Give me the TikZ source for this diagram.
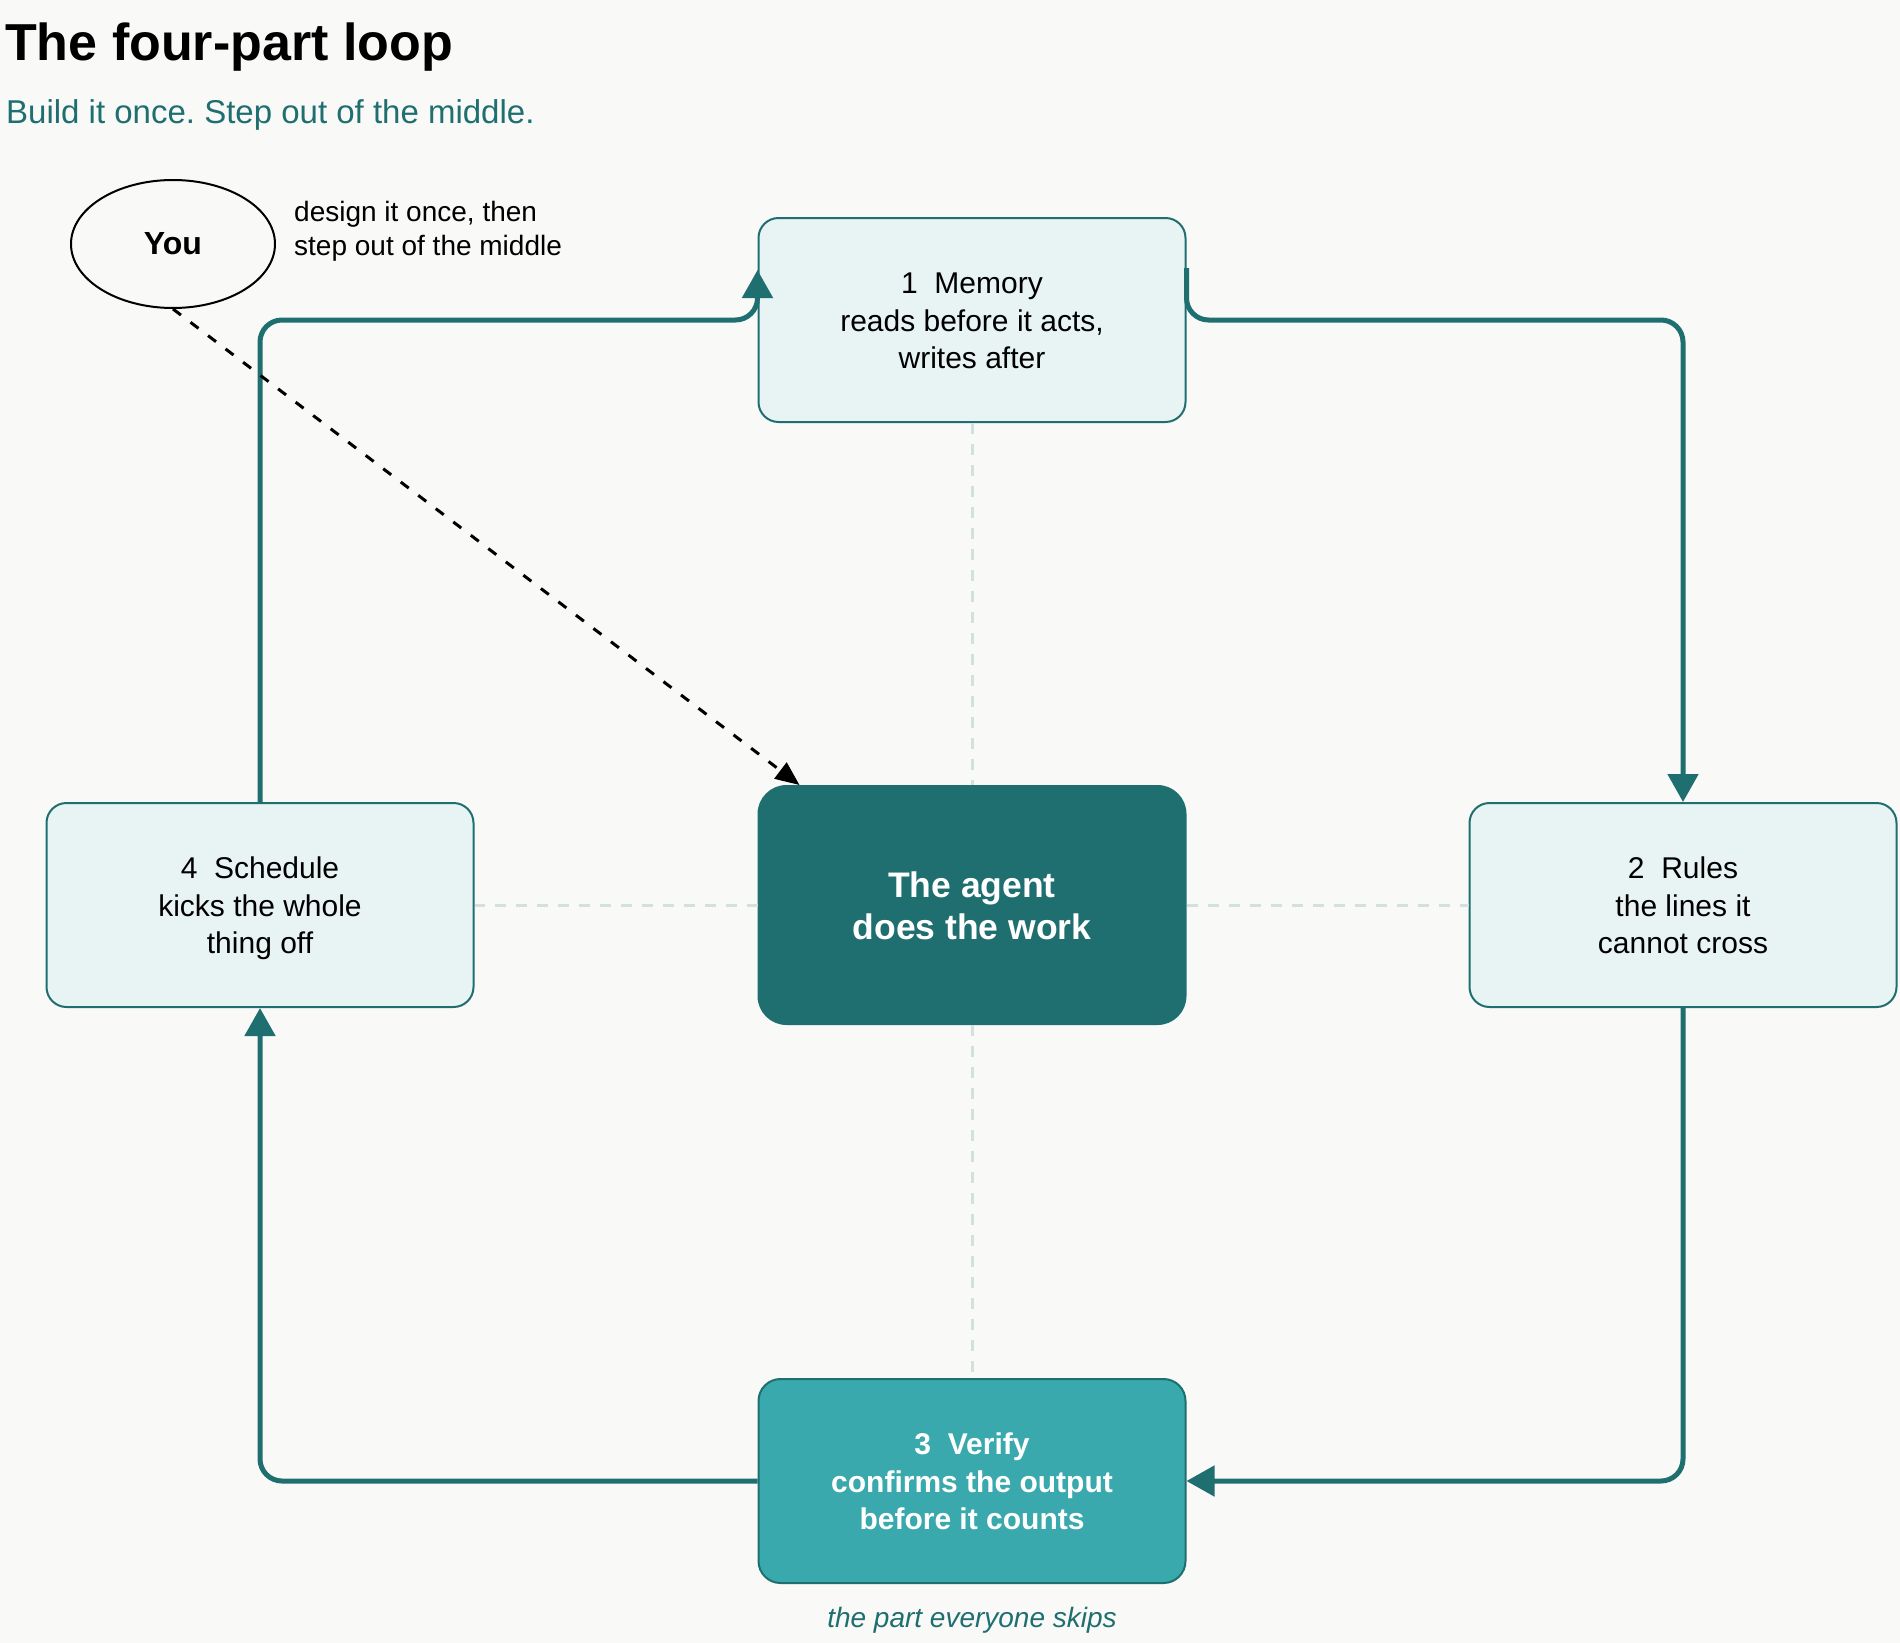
\documentclass[tikz,border=0pt]{standalone}
\usepackage{fontspec}
\setmainfont{Liberation Sans}
\usetikzlibrary{arrows.meta,shapes.geometric,calc}
\definecolor{tealD}{HTML}{1F6F70}
\definecolor{tealM}{HTML}{3AA9AD}
\definecolor{lightF}{HTML}{E8F3F3}
\definecolor{guideC}{HTML}{D3E0E0}
\definecolor{bgC}{HTML}{F9F9F7}
\frenchspacing
\newcommand{\cardtext}[1]{\raisebox{\dimexpr-2.5pt-0.25em\relax}[0pt][0pt]{\begin{tabular}{@{}c@{}}#1\end{tabular}}}
\begin{document}
\begin{tikzpicture}[x=1pt,y=-1pt,
  card/.style={rectangle, rounded corners=20pt, draw=tealD, line width=2pt, fill=lightF,
    minimum width=427pt, minimum height=204pt, inner sep=0pt,
    font=\fontsize{30}{37.6}\selectfont, text=black},
  agentbox/.style={card, rounded corners=28pt, fill=tealD, minimum height=238pt,
    text=white, font=\bfseries\fontsize{35.5}{42}\selectfont},
  verifybox/.style={card, rounded corners=22pt, fill=tealM, text=white,
    font=\bfseries\fontsize{30}{37.6}\selectfont},
  flow/.style={draw=tealD, line width=5pt, rounded corners=22pt,
    -{Triangle[length=28pt,width=30pt]}},
  guide/.style={draw=guideC, line width=3pt, dash pattern=on 11pt off 10pt},
  youlink/.style={draw=black, line width=3pt, dash pattern=on 10pt off 12pt,
    -{Triangle[length=24pt,width=20pt]}},
  plain/.style={inner sep=0pt}
]
\fill[bgC] (0,0) rectangle (1900,1643);
\useasboundingbox (0,0) rectangle (1900,1643);

\node[plain, anchor=base west, font=\bfseries\fontsize{52}{60}\selectfont] (title) at (5,61) {The four-part loop};
\node[plain, anchor=base west, text=tealD, font=\fontsize{33}{40}\selectfont] (sub) at (6,124) {Build it once. Step out of the middle.};

\node[ellipse, draw=black, line width=2pt, minimum width=204pt, minimum height=128pt, inner sep=0pt,
  font=\bfseries\fontsize{32}{38}\selectfont] (you) at (173,244) {You};
\node[plain, anchor=west, align=left, font=\fontsize{28}{34}\selectfont] (note) at (294,231) {design it once, then\\step out of the middle};

\node[card] (mem) at (972,320) {\cardtext{1~~Memory\\reads before it acts,\\writes after}};
\node[agentbox] (agent) at (972,905) {\cardtext{The agent\\does the work}};
\node[card] (rules) at (1683,905) {\cardtext{2~~Rules\\the lines it\\cannot cross}};
\node[card] (sched) at (260,905) {\cardtext{4~~Schedule\\kicks the whole\\thing off}};
\node[verifybox] (ver) at (972,1481) {\cardtext{3~~Verify\\confirms the output\\before it counts}};
\node[plain, text=tealD, font=\itshape\fontsize{28}{34}\selectfont] (skip) at (972,1620) {the part everyone skips};

% guides
\draw[guide] (mem.south) -- (agent.north);
\draw[guide] (agent.south) -- (ver.north);
\draw[guide] (agent.west) -- (sched.east);
\draw[guide] (agent.east) -- (rules.west);

% loop
\draw[flow] ([yshift=52pt]mem.east) -- (mem.east) -| (rules.north);
\draw[flow] (rules.south) |- (ver.east);
\draw[flow] (ver.west) -| (sched.south);
\draw[flow] (sched.north) |- (mem.west) -- ([yshift=50pt]mem.west);

% you
\draw[youlink] (you.south) -- ([xshift=42pt]agent.north west);
\end{tikzpicture}
\end{document}
